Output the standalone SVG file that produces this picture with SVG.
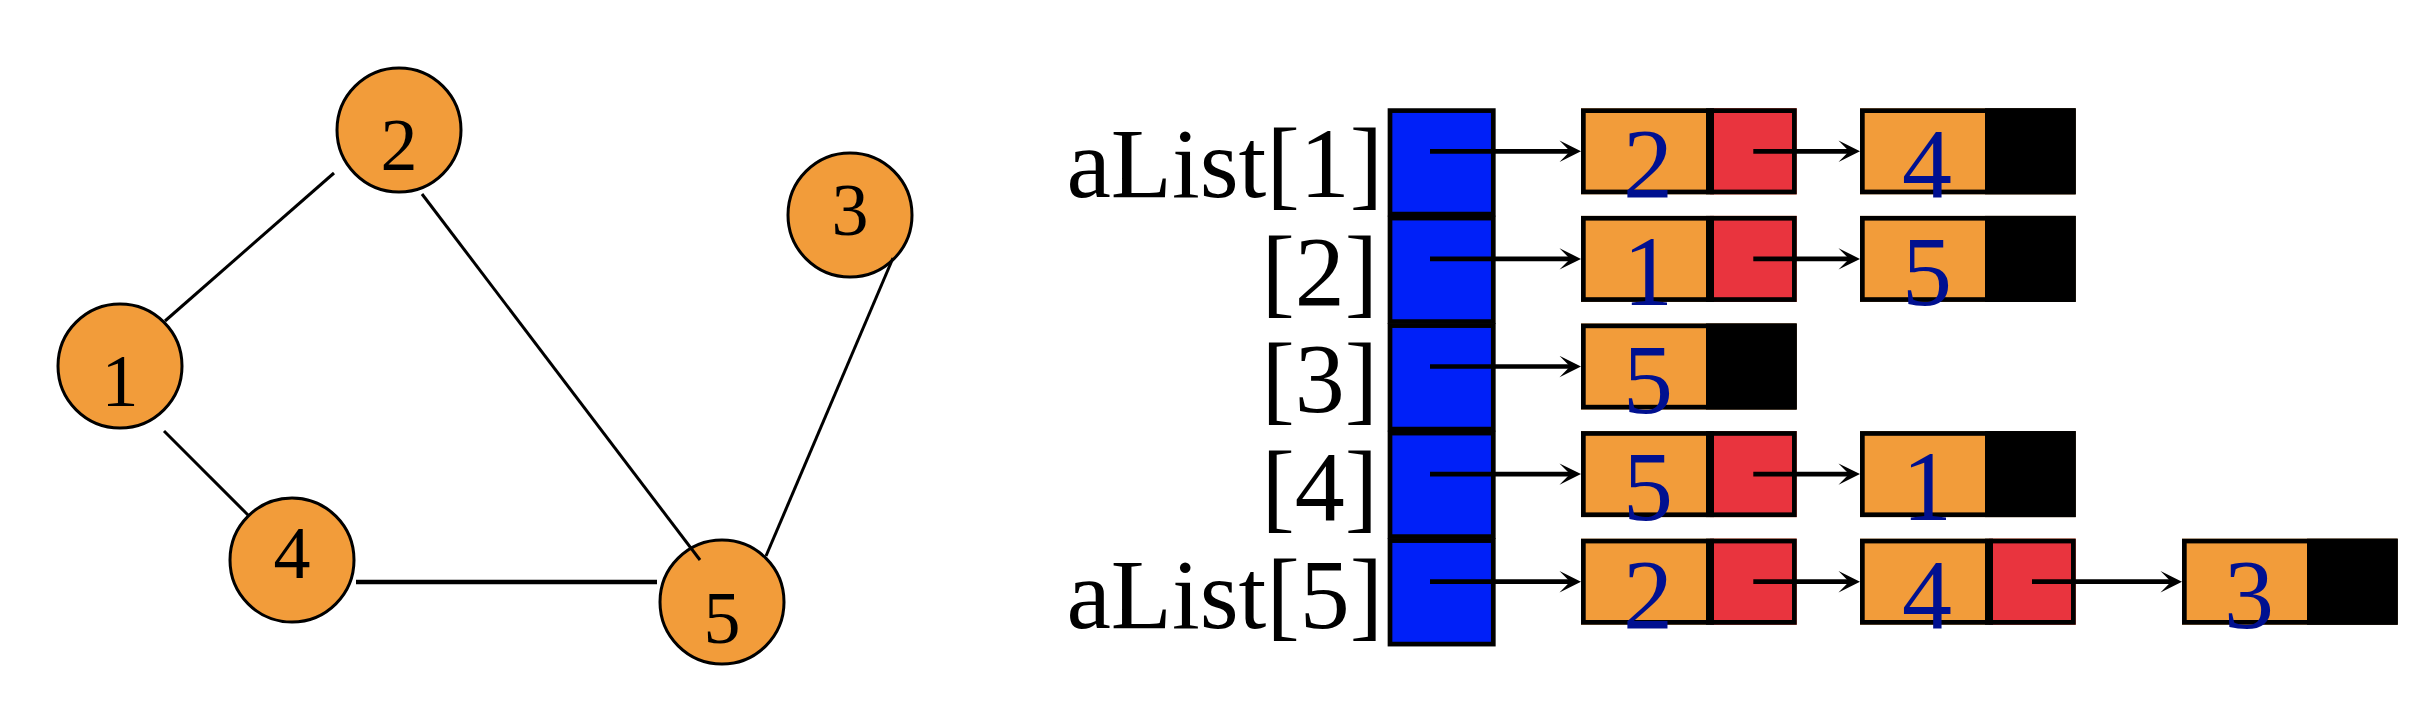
<svg xmlns="http://www.w3.org/2000/svg" width="2410" height="718" viewBox="0 0 2410 718">
<style>
.gn{fill:#F29C3A;stroke:#000;stroke-width:3}
.gt{font-family:"Liberation Serif","Times New Roman",serif;font-size:74px;fill:#000;text-anchor:middle}
.edge{stroke:#000;stroke-width:3;fill:none}
.lbl{font-family:"Liberation Serif","Times New Roman",serif;font-size:100px;fill:#000;text-anchor:end}
.cell{fill:#0020F8;stroke:#000;stroke-width:4.7}
.bo{fill:#F29C3A}
.br{fill:#E9343E}
.bk{fill:#000}
.bout{fill:none;stroke:#000;stroke-width:4.7}
.sep{stroke:#000;stroke-width:8}
.bt{font-family:"Liberation Serif","Times New Roman",serif;font-size:100px;fill:#001090;text-anchor:middle}
.arr{stroke:#000;stroke-width:4.7;fill:none;marker-end:url(#ah)}
</style>
<defs>
<marker id="ah" markerUnits="userSpaceOnUse" viewBox="-11 -11 22 22" refX="0" refY="0" markerWidth="22" markerHeight="22" orient="auto">
<path d="M11,0 L-10.5,-10.7 L0,0 L-10.5,10.7 Z" fill="#000"/>
</marker>
</defs>

<!-- Graph nodes -->
<g id="g1"><circle class="gn" cx="120" cy="366" r="62"/><text class="gt" x="120" y="406">1</text></g>
<g id="g2"><circle class="gn" cx="399" cy="130" r="62"/><text class="gt" x="399" y="170">2</text></g>
<g id="g3"><circle class="gn" cx="850" cy="215" r="62"/><text class="gt" x="850" y="235">3</text></g>
<g id="g4"><circle class="gn" cx="292" cy="560" r="62"/><text class="gt" x="292" y="578">4</text></g>
<g id="g5"><circle class="gn" cx="722" cy="602" r="62"/><text class="gt" x="722" y="643">5</text></g>

<g id="graph-edges">
<line class="edge" x1="165" y1="321" x2="334" y2="173"/>
<line class="edge" x1="422" y1="194" x2="700" y2="560"/>
<line class="edge" x1="164" y1="431" x2="248" y2="515"/>
<line class="edge" x1="356" y1="582" x2="657" y2="582" style="stroke-width:4.5"/>
<line class="edge" x1="893" y1="258" x2="766" y2="556"/>
</g>

<!-- Labels -->
<g id="labels">
<text class="lbl" x="1383" y="197.3">aList[1]</text>
<text class="lbl" x="1378" y="304.5">[2]</text>
<text class="lbl" x="1378" y="412">[3]</text>
<text class="lbl" x="1378" y="519.5">[4]</text>
<text class="lbl" x="1383" y="627.7">aList[5]</text>
</g>

<!-- Array cells -->
<g id="cell1"><rect class="cell" x="1390" y="110.6" width="103.3" height="103.5"/></g>
<g id="cell2"><rect class="cell" x="1390" y="218.1" width="103.3" height="103.5"/></g>
<g id="cell3"><rect class="cell" x="1390" y="325.6" width="103.3" height="103.5"/></g>
<g id="cell4"><rect class="cell" x="1390" y="433.1" width="103.3" height="103.5"/></g>
<g id="cell5"><rect class="cell" x="1390" y="540.6" width="103.3" height="103.5"/></g>

<!-- List nodes: row 1 -->
<g id="r1n1" transform="translate(1581,108.3)"><rect class="bo" x="0" y="0" width="215.7" height="86"/><rect class="br" x="129" y="0" width="86.7" height="86"/><rect class="bout" x="2.35" y="2.35" width="211" height="81.3"/><line class="sep" x1="129" y1="0" x2="129" y2="86"/><text class="bt" x="67" y="89">2</text></g>
<g id="r1n2" transform="translate(1860,108.3)"><rect class="bo" x="0" y="0" width="215.7" height="86"/><rect class="bk" x="125" y="0" width="90.7" height="86"/><rect class="bout" x="2.35" y="2.35" width="211" height="81.3"/><text class="bt" x="67" y="89">4</text></g>
<!-- row 2 -->
<g id="r2n1" transform="translate(1581,215.9)"><rect class="bo" x="0" y="0" width="215.7" height="86"/><rect class="br" x="129" y="0" width="86.7" height="86"/><rect class="bout" x="2.35" y="2.35" width="211" height="81.3"/><line class="sep" x1="129" y1="0" x2="129" y2="86"/><text class="bt" x="67" y="89">1</text></g>
<g id="r2n2" transform="translate(1860,215.9)"><rect class="bo" x="0" y="0" width="215.7" height="86"/><rect class="bk" x="125" y="0" width="90.7" height="86"/><rect class="bout" x="2.35" y="2.35" width="211" height="81.3"/><text class="bt" x="67" y="89">5</text></g>
<!-- row 3 -->
<g id="r3n1" transform="translate(1581,323.5)"><rect class="bo" x="0" y="0" width="215.7" height="86"/><rect class="bk" x="125" y="0" width="90.7" height="86"/><rect class="bout" x="2.35" y="2.35" width="211" height="81.3"/><text class="bt" x="67" y="89">5</text></g>
<!-- row 4 -->
<g id="r4n1" transform="translate(1581,431.1)"><rect class="bo" x="0" y="0" width="215.7" height="86"/><rect class="br" x="129" y="0" width="86.7" height="86"/><rect class="bout" x="2.35" y="2.35" width="211" height="81.3"/><line class="sep" x1="129" y1="0" x2="129" y2="86"/><text class="bt" x="67" y="89">5</text></g>
<g id="r4n2" transform="translate(1860,431.1)"><rect class="bo" x="0" y="0" width="215.7" height="86"/><rect class="bk" x="125" y="0" width="90.7" height="86"/><rect class="bout" x="2.35" y="2.35" width="211" height="81.3"/><text class="bt" x="67" y="89">1</text></g>
<!-- row 5 -->
<g id="r5n1" transform="translate(1581,538.7)"><rect class="bo" x="0" y="0" width="215.7" height="86"/><rect class="br" x="129" y="0" width="86.7" height="86"/><rect class="bout" x="2.35" y="2.35" width="211" height="81.3"/><line class="sep" x1="129" y1="0" x2="129" y2="86"/><text class="bt" x="67" y="89">2</text></g>
<g id="r5n2" transform="translate(1860,538.7)"><rect class="bo" x="0" y="0" width="215.7" height="86"/><rect class="br" x="129" y="0" width="86.7" height="86"/><rect class="bout" x="2.35" y="2.35" width="211" height="81.3"/><line class="sep" x1="129" y1="0" x2="129" y2="86"/><text class="bt" x="67" y="89">4</text></g>
<g id="r5n3" transform="translate(2182,538.7)"><rect class="bo" x="0" y="0" width="215.7" height="86"/><rect class="bk" x="125" y="0" width="90.7" height="86"/><rect class="bout" x="2.35" y="2.35" width="211" height="81.3"/><text class="bt" x="67" y="89">3</text></g>

<!-- Connectors -->
<g id="connectors">
<line class="arr" x1="1430" y1="151.3" x2="1570" y2="151.3"/>
<line class="arr" x1="1430" y1="258.9" x2="1570" y2="258.9"/>
<line class="arr" x1="1430" y1="366.5" x2="1570" y2="366.5"/>
<line class="arr" x1="1430" y1="474.1" x2="1570" y2="474.1"/>
<line class="arr" x1="1430" y1="581.7" x2="1570" y2="581.7"/>
<line class="arr" x1="1753.3" y1="151.3" x2="1849" y2="151.3"/>
<line class="arr" x1="1753.3" y1="258.9" x2="1849" y2="258.9"/>
<line class="arr" x1="1753.3" y1="474.1" x2="1849" y2="474.1"/>
<line class="arr" x1="1753.3" y1="581.7" x2="1849" y2="581.7"/>
<line class="arr" x1="2032" y1="581.7" x2="2171" y2="581.7"/>
</g>
</svg>
